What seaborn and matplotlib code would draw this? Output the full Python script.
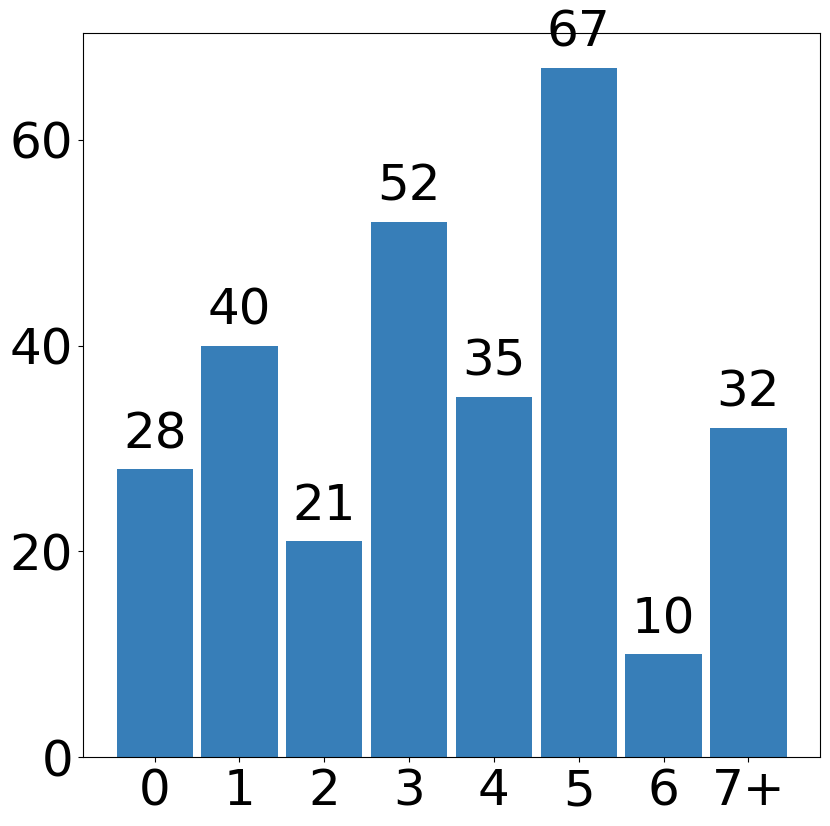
import numpy as np
import pandas as pd
import seaborn as sns
import matplotlib.pyplot as plt

categories = ["0", "1", "2", "3", "4", "5", "6", "7+"]
counts = [28, 40, 21, 52, 35, 67, 10, 32]

BAR_COLOR = "#377eb8"
FONT_SIZE = 36

df = pd.DataFrame({"category": categories, "count": counts})

fig, ax = plt.subplots(figsize=(8.3, 8.26), dpi=100)
sns.barplot(data=df, x="category", y="count", color=BAR_COLOR,
            width=0.9, saturation=1, ax=ax)

# labels on top of bars
for c in ax.containers:
    ax.bar_label(c, fontsize=FONT_SIZE, padding=8)

# matplotlib-like default margins instead of seaborn's tight categorical limits
n = len(categories)
pad = (n - 1 + 0.9) * 0.05
ax.set_xlim(-0.45 - pad, n - 1 + 0.45 + pad)
ax.set_ylim(0, max(counts) * 1.05)
ax.set_yticks([0, 20, 40, 60])

ax.set_xlabel("")
ax.set_ylabel("")
ax.tick_params(labelsize=FONT_SIZE)
for s in ax.spines.values():
    s.set_visible(True)
    s.set_color("black")

plt.subplots_adjust(left=0.1, right=0.988, top=0.96, bottom=0.083)
plt.savefig("out.png", dpi=100)
